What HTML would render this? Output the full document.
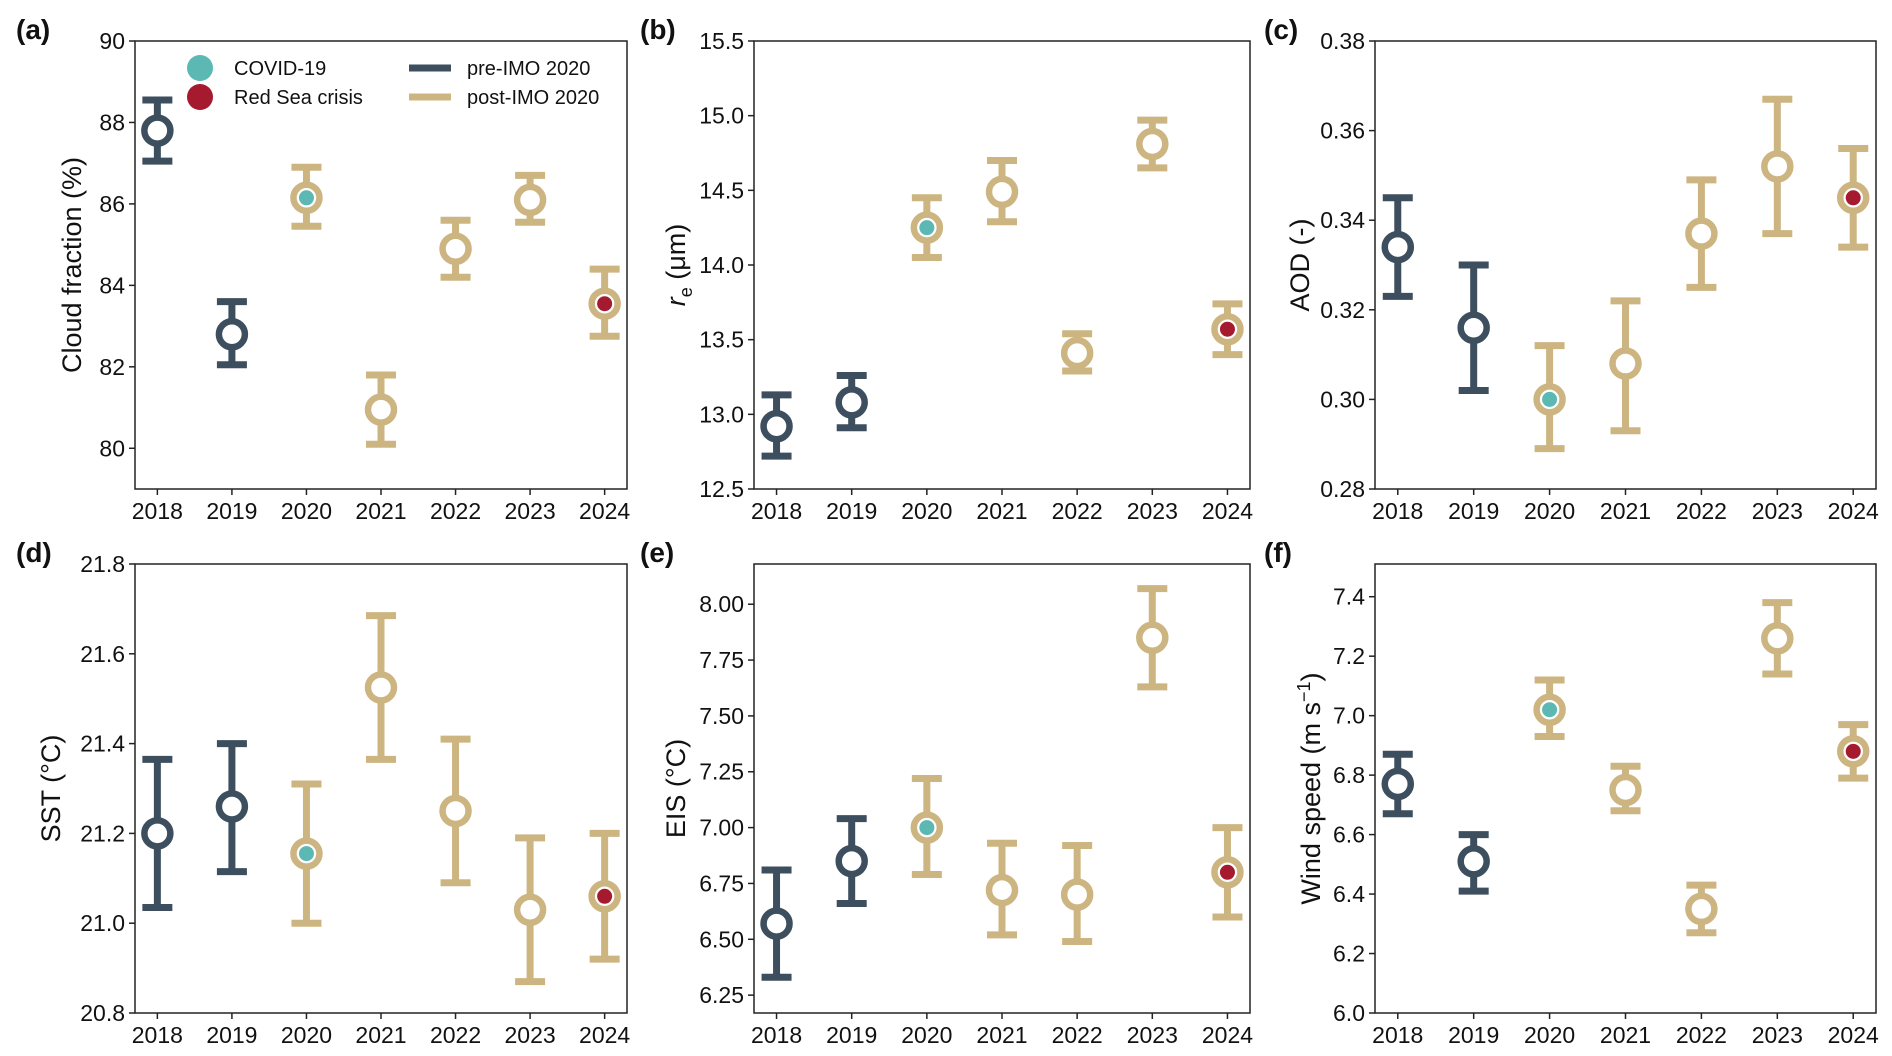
<!DOCTYPE html>
<html><head><meta charset="utf-8"><style>
html,body{margin:0;padding:0;background:#fff;}
svg{display:block;font-family:"Liberation Sans","DejaVu Sans",sans-serif;}
</style></head><body>
<svg id="fig" width="1892" height="1056" viewBox="0 0 1892 1056"></svg>
<script>
const years=[2018,2019,2020,2021,2022,2023,2024];
const preYears=[2018,2019];
const covidYear=2020, redSeaYear=2024;
const cfMean=[87.8,82.8,86.15,80.95,84.9,86.1,83.55];
const cfLo=[87.05,82.05,85.45,80.1,84.2,85.55,82.75];
const cfHi=[88.55,83.6,86.9,81.8,85.6,86.7,84.4];
const reMean=[12.92,13.08,14.25,14.49,13.41,14.81,13.57];
const reLo=[12.72,12.91,14.05,14.29,13.29,14.65,13.40];
const reHi=[13.13,13.26,14.45,14.7,13.54,14.97,13.74];
const aodMean=[0.334,0.316,0.300,0.308,0.337,0.352,0.345];
const aodLo=[0.323,0.302,0.289,0.293,0.325,0.337,0.334];
const aodHi=[0.345,0.330,0.312,0.322,0.349,0.367,0.356];
const sstMean=[21.20,21.26,21.155,21.525,21.25,21.03,21.06];
const sstLo=[21.035,21.115,21.0,21.365,21.09,20.87,20.92];
const sstHi=[21.365,21.40,21.31,21.685,21.41,21.19,21.20];
const eisMean=[6.57,6.85,7.00,6.72,6.70,7.85,6.80];
const eisLo=[6.33,6.66,6.79,6.52,6.49,7.63,6.60];
const eisHi=[6.81,7.04,7.22,6.93,6.92,8.07,7.00];
const wsMean=[6.77,6.51,7.02,6.75,6.35,7.26,6.88];
const wsLo=[6.67,6.41,6.93,6.68,6.27,7.14,6.79];
const wsHi=[6.87,6.60,7.12,6.83,6.43,7.38,6.97];
const cfTicks=[80,82,84,86,88,90];
const reTicks=["12.5","13.0","13.5","14.0","14.5","15.0","15.5"];
const aodTicks=["0.28","0.30","0.32","0.34","0.36","0.38"];
const sstTicks=["20.8","21.0","21.2","21.4","21.6","21.8"];
const eisTicks=["6.25","6.50","6.75","7.00","7.25","7.50","7.75","8.00"];
const wsTicks=["6.0","6.2","6.4","6.6","6.8","7.0","7.2","7.4"];

const NS="http://www.w3.org/2000/svg";
const svg=document.getElementById('fig');
const C_PRE="#3d4f5e",C_POST="#cdb582",C_COV="#5bb8b2",C_RED="#a51a2e";
function mk(tag,attrs,parent){const e=document.createElementNS(NS,tag);for(const k in attrs)e.setAttribute(k,attrs[k]);(parent||svg).appendChild(e);return e;}

function panel(o){
  const g=mk('g',{});
  
  
  const L=o.x0,R=o.x1,T=o.y0,B=o.y1;
  const xs=v=>L+(v-2017.7)/(2024.3-2017.7)*(R-L);
  const ys=v=>B-(v-o.ymin)/(o.ymax-o.ymin)*(B-T);
  const fr=mk('rect',{x:L,y:T,width:R-L,height:B-T,fill:'none',stroke:'#222','stroke-width':1.5},g);
  
  
  years.forEach(y=>{
    mk('line',{x1:xs(y),x2:xs(y),y1:B,y2:B+6,stroke:'#222','stroke-width':1.5},g);
    const t=mk('text',{x:xs(y),y:B+30,'font-size':23,'text-anchor':'middle',fill:'#111'},g);
    t.textContent=y;
    
    
  });
  o.ticks.forEach(tv=>{
    const v=parseFloat(tv);
    mk('line',{x1:L-6,x2:L,y1:ys(v),y2:ys(v),stroke:'#222','stroke-width':1.5},g);
    const t=mk('text',{x:L-10,y:ys(v)+8,'font-size':23,'text-anchor':'end',fill:'#111'},g);
    t.textContent=tv;
    
    
  });
  const yl=mk('text',{x:o.lx,y:(T+B)/2,'font-size':27,'text-anchor':'middle',fill:'#111',transform:`rotate(-90 ${o.lx} ${(T+B)/2})`},g);
  yl.innerHTML=o.label;
  
  
  const pl=mk('text',{x:o.px,y:T-2,'font-size':28,'font-weight':'bold',fill:'#111'},g);
  pl.textContent=o.tag;
  
  
  years.forEach((y,i)=>{
    const col=preYears.includes(y)?C_PRE:C_POST;
    const x=xs(y);
    const ge=mk('g',{},g);
    
    
    mk('line',{x1:x,x2:x,y1:ys(o.lo[i]),y2:ys(o.hi[i]),stroke:col,'stroke-width':7},ge);
    mk('line',{x1:x-15,x2:x+15,y1:ys(o.lo[i]),y2:ys(o.lo[i]),stroke:col,'stroke-width':7},ge);
    mk('line',{x1:x-15,x2:x+15,y1:ys(o.hi[i]),y2:ys(o.hi[i]),stroke:col,'stroke-width':7},ge);
    mk('circle',{cx:x,cy:ys(o.mean[i]),r:13,fill:'#fff',stroke:col,'stroke-width':6.5},ge);
    if(y===covidYear)mk('circle',{cx:x,cy:ys(o.mean[i]),r:7.5,fill:C_COV},ge);
    if(y===redSeaYear)mk('circle',{cx:x,cy:ys(o.mean[i]),r:7.5,fill:C_RED},ge);
  });
}
const R1=[41,489],R2=[564,1013];
const CA=[135,627],CB=[754,1250],CC=[1375,1876];
panel({name:'cloud-fraction',tag:'(a)',px:16,x0:CA[0],x1:CA[1],y0:R1[0],y1:R1[1],ymin:79,ymax:90,ticks:cfTicks.map(String),mean:cfMean,lo:cfLo,hi:cfHi,lx:81,label:'Cloud fraction (%)'});
panel({name:'effective-radius',tag:'(b)',px:640,x0:CB[0],x1:CB[1],y0:R1[0],y1:R1[1],ymin:12.5,ymax:15.5,ticks:reTicks,mean:reMean,lo:reLo,hi:reHi,lx:685,label:'<tspan font-style="italic">r</tspan><tspan font-size="18" dy="7">e</tspan><tspan dy="-7"> (μm)</tspan>'});
panel({name:'aod',tag:'(c)',px:1264,x0:CC[0],x1:CC[1],y0:R1[0],y1:R1[1],ymin:0.28,ymax:0.38,ticks:aodTicks,mean:aodMean,lo:aodLo,hi:aodHi,lx:1309,label:'AOD (-)'});
panel({name:'sst',tag:'(d)',px:16,x0:CA[0],x1:CA[1],y0:R2[0],y1:R2[1],ymin:20.8,ymax:21.8,ticks:sstTicks,mean:sstMean,lo:sstLo,hi:sstHi,lx:60,label:'SST (°C)'});
panel({name:'eis',tag:'(e)',px:640,x0:CB[0],x1:CB[1],y0:R2[0],y1:R2[1],ymin:6.17,ymax:8.18,ticks:eisTicks,mean:eisMean,lo:eisLo,hi:eisHi,lx:685,label:'EIS (°C)'});
panel({name:'wind-speed',tag:'(f)',px:1264,x0:CC[0],x1:CC[1],y0:R2[0],y1:R2[1],ymin:6.0,ymax:7.51,ticks:wsTicks,mean:wsMean,lo:wsLo,hi:wsHi,lx:1320,label:'Wind speed (m s<tspan font-size="18" dy="-10">−1</tspan><tspan dy="10">)</tspan>'});

const lg=mk('g',{});


const legItems=[['dot',C_COV,'COVID-19',200,68],['dot',C_RED,'Red Sea crisis',200,97],['line',C_PRE,'pre-IMO 2020',430,68],['line',C_POST,'post-IMO 2020',430,97]];
legItems.forEach(it=>{
  const e=mk('g',{},lg);
  
  
  if(it[0]==='dot')mk('circle',{cx:it[3],cy:it[4],r:13,fill:it[1]},e);
  else mk('line',{x1:it[3]-21,x2:it[3]+21,y1:it[4],y2:it[4],stroke:it[1],'stroke-width':7},e);
  const t=mk('text',{x:it[3]+(it[0]==='dot'?34:37),y:it[4]+7,'font-size':20,fill:'#111'},e);
  t.textContent=it[2];
});
</script>
</body></html>
